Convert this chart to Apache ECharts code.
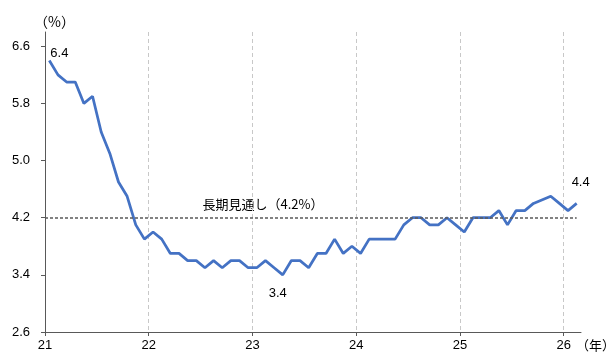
<!DOCTYPE html>
<html><head><meta charset="utf-8">
<script src="https://cdn.jsdelivr.net/npm/echarts@6/dist/echarts.min.js"></script>
<style>html,body{margin:0;padding:0;background:#fff}#c{width:606px;height:354px}</style>
</head><body><div id="c"></div>
<script>
// ---- data ----
const yearTicks = ['21', '22', '23', '24', '25', '26'];
const rate2021 = [6.4, 6.2, 6.1, 6.1, 5.8, 5.9, 5.4, 5.1, 4.7, 4.5, 4.1, 3.9];
const rate2022 = [4.0, 3.9, 3.7, 3.7, 3.6, 3.6, 3.5, 3.6, 3.5, 3.6, 3.6, 3.5];
const rate2023 = [3.5, 3.6, 3.5, 3.4, 3.6, 3.6, 3.5, 3.7, 3.7, 3.9, 3.7, 3.8];
const rate2024 = [3.7, 3.9, 3.9, 3.9, 3.9, 4.1, 4.2, 4.2, 4.1, 4.1, 4.2, 4.1];
const rate2025 = [4.0, 4.2, 4.2, 4.2, 4.3, 4.1, 4.3, 4.3, 4.4, null, 4.5, 4.4];
const rate2026 = [4.3, 4.4];
const yTicks = [2.6, 3.4, 4.2, 5.0, 5.8, 6.6];
const longRunRate = 4.2;
const longRunText = '長期見通し（4.2%）';
const labelledMonths = [0, 27, 61];

// ---- build ----
const allRates = [].concat(rate2021, rate2022, rate2023, rate2024, rate2025, rate2026);
const xTickVals = yearTicks.map((_, i) => i * 12);
const labelStyles = {
  0: { position: 'top', distance: 1, offset: [10, 0] },
  27: { position: 'bottom', distance: 12, offset: [-5, 0] },
  61: { position: 'top', distance: 15, offset: [4, 0] }
};
const seriesData = allRates.map((v, i) => {
  const item = { value: [i + 0.5, v == null ? '-' : v] };
  if (labelledMonths.includes(i)) {
    item.label = Object.assign({ show: true, formatter: () => v.toFixed(1) }, labelStyles[i]);
  }
  return item;
});

const FONT = "'Liberation Sans', Arial, 'Noto Sans CJK JP', sans-serif";
const CJK = "'Noto Sans CJK JP', 'Liberation Sans', sans-serif";
const chart = echarts.init(document.getElementById('c'), null, { renderer: 'canvas' });
chart.setOption({
  animation: false,
  backgroundColor: '#fff',
  grid: { left: 45, right: 25, top: 32, bottom: 22, containLabel: false },
  xAxis: {
    type: 'value', min: 0, max: 62, interval: 12,
    axisLine: { show: true, lineStyle: { color: '#595959', width: 1 } },
    axisTick: { show: true, length: 4, customValues: xTickVals, lineStyle: { color: '#595959' } },
    axisLabel: {
      customValues: xTickVals, margin: 7,
      formatter: v => yearTicks[Math.round(v / 12)] || '',
      color: '#000', fontSize: 13, fontFamily: FONT
    },
    splitLine: { show: true, showMinLine: false, showMaxLine: true,
      lineStyle: { color: '#c8c8c8', type: [4, 3], width: 1 } }
  },
  yAxis: {
    type: 'value', min: 2.6, max: 6.8, interval: 0.8,
    axisLine: { show: true, lineStyle: { color: '#595959', width: 1 } },
    axisTick: { show: true, length: 4, customValues: yTicks, lineStyle: { color: '#595959' } },
    axisLabel: {
      customValues: yTicks, margin: 15,
      formatter: v => v.toFixed(1),
      color: '#000', fontSize: 13, fontFamily: FONT
    },
    splitLine: { show: false }
  },
  series: [{
    type: 'line',
    data: seriesData,
    connectNulls: true,
    showSymbol: true,
    symbol: 'circle',
    symbolSize: 0,
    lineStyle: { color: '#4472C4', width: 2.75 },
    itemStyle: { color: '#4472C4' },
    label: { show: false, color: '#000', fontSize: 13, fontFamily: FONT },
    markLine: {
      silent: true, symbol: 'none',
      lineStyle: { color: '#595959', type: [3, 2], width: 1.5 },
      label: { show: false },
      data: [[{ coord: [0, longRunRate] }, { coord: [61.5, longRunRate] }]]
    }
  }],
  graphic: [
    { type: 'text', style: { text: '（%）', x: 34, y: 22, fill: '#000', font: '14px ' + CJK, align: 'left', verticalAlign: 'middle' } },
    { type: 'text', style: { text: '（年）', x: 576, y: 345, fill: '#000', font: '13px ' + CJK, align: 'left', verticalAlign: 'middle' } },
    { type: 'text', style: { text: longRunText, x: 263, y: 204, fill: '#000', font: '13px ' + CJK, align: 'center', verticalAlign: 'middle' } }
  ]
});
</script>
</body></html>
